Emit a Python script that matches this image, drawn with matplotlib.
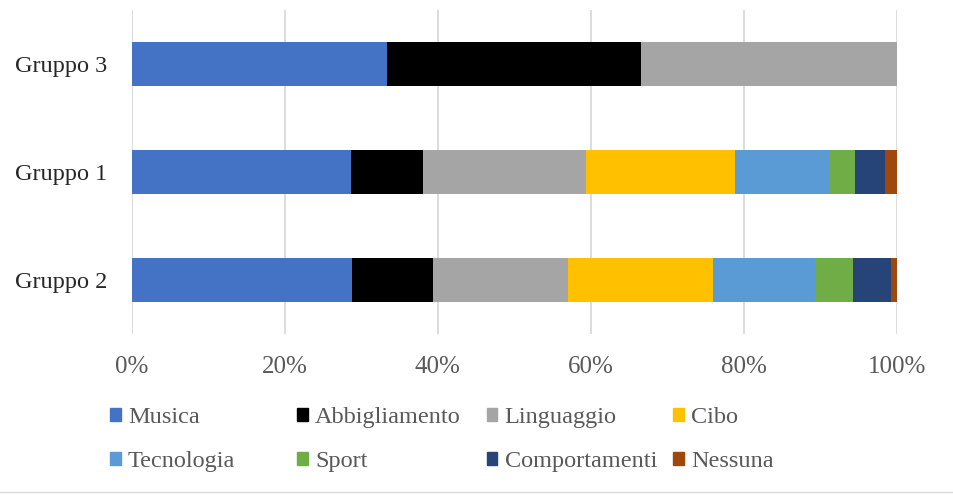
import numpy as np
import matplotlib.pyplot as plt
from matplotlib.patches import Patch

# Data (percent shares)
groups = ['Gruppo 2', 'Gruppo 1', 'Gruppo 3']
categories = ['Musica', 'Abbigliamento', 'Linguaggio', 'Cibo',
              'Tecnologia', 'Sport', 'Comportamenti', 'Nessuna']
musica = [28.8, 28.6, 33.3]
abbigliamento = [10.5, 9.5, 33.3]
linguaggio = [17.7, 21.2, 33.4]
cibo = [19.0, 19.6, 0]
tecnologia = [13.3, 12.4, 0]
sport = [5.0, 3.3, 0]
comportamenti = [5.0, 3.8, 0]
nessuna = [0.7, 1.6, 0]
series = [musica, abbigliamento, linguaggio, cibo,
          tecnologia, sport, comportamenti, nessuna]
xticks = [0, 20, 40, 60, 80, 100]

colors = ['#4472C4', '#000000', '#A5A5A5', '#FFC000',
          '#5B9BD5', '#70AD47', '#264478', '#9E480E']

plt.rcParams['font.family'] = ['Liberation Serif', 'DejaVu Serif']

fig = plt.figure(figsize=(9.54, 4.95), dpi=100)
ax = fig.add_axes([0.1384, 0.325, 0.8016, 0.655])

y = np.arange(len(groups))
left = np.zeros(len(groups))
for vals, col, name in zip(series, colors, categories):
    vals = np.array(vals)
    ax.barh(y, vals, left=left, height=0.4, color=col, label=name, zorder=3)
    left += vals

ax.set_xlim(0, 100)
ax.set_ylim(-0.5, 2.5)
ax.set_xticks(xticks)
ax.set_xticklabels([f'{v}%' for v in xticks])
ax.set_yticks(y)
ax.set_yticklabels(groups)
ax.tick_params(axis='x', length=0, pad=16, labelsize=18, labelcolor='#595959')
ax.tick_params(axis='y', length=0, pad=18, labelsize=17.5, labelcolor='#262626')
ax.grid(axis='x', color='#D9D9D9', linewidth=1.3, zorder=0)
for s in ax.spines.values():
    s.set_visible(False)

# legend: one small legend per column, 2 rows each
col_x = [0.115, 0.311, 0.510, 0.705]
for c in range(4):
    idx = [c, c + 4]
    leg = fig.legend([Patch(color=colors[i]) for i in idx],
                     [categories[i] for i in idx],
                     loc='upper left', bbox_to_anchor=(col_x[c], 0.178),
                     borderaxespad=0, borderpad=0, frameon=False,
                     fontsize=17.5, handlelength=0.45, handleheight=0.45,
                     handletextpad=0.3, labelspacing=0.95,
                     labelcolor='#595959')

fig.add_artist(plt.Line2D([0, 1], [0.006, 0.006], color='#D9D9D9', linewidth=1))

fig.savefig('out.png', dpi=100)
